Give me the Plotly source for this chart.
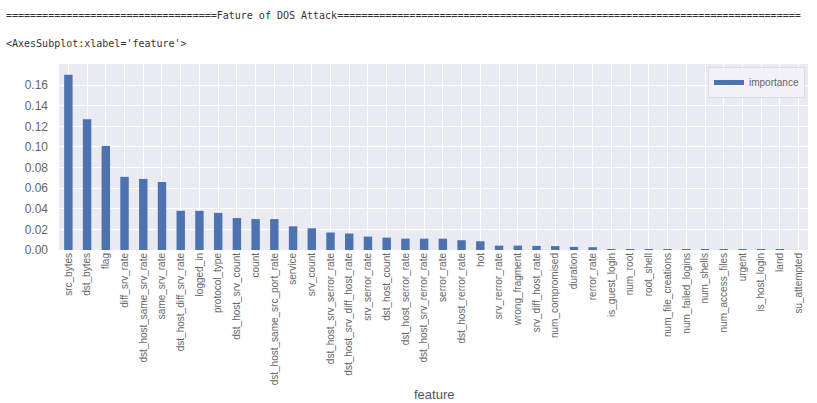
import plotly.graph_objects as go

features = ["src_bytes", "dst_bytes", "flag", "diff_srv_rate", "dst_host_same_srv_rate",
            "same_srv_rate", "dst_host_diff_srv_rate", "logged_in", "protocol_type",
            "dst_host_srv_count", "count", "dst_host_same_src_port_rate", "service",
            "srv_count", "dst_host_srv_serror_rate", "dst_host_srv_diff_host_rate",
            "srv_serror_rate", "dst_host_count", "dst_host_serror_rate",
            "dst_host_srv_rerror_rate", "serror_rate", "dst_host_rerror_rate", "hot",
            "srv_rerror_rate", "wrong_fragment", "srv_diff_host_rate", "num_compromised",
            "duration", "rerror_rate", "is_guest_login", "num_root", "root_shell",
            "num_file_creations", "num_failed_logins", "num_shells", "num_access_files",
            "urgent", "is_host_login", "land", "su_attempted"]
importance = [0.170, 0.127, 0.101, 0.071, 0.069, 0.066, 0.038, 0.038, 0.036, 0.031,
              0.030, 0.030, 0.023, 0.021, 0.017, 0.016, 0.013, 0.012, 0.011, 0.011,
              0.011, 0.0095, 0.0085, 0.0042, 0.0042, 0.0040, 0.0038, 0.0030, 0.0027,
              0.0004, 0.0003, 0.0002, 0.0002, 0.0001, 0.0001, 0.0001, 0.00005, 0.00002,
              0.00001, 0.0]
yticks = [0.00, 0.02, 0.04, 0.06, 0.08, 0.10, 0.12, 0.14, 0.16]

title_line = "=" * 35 + "Fature of DOS Attack" + "=" * 77
repr_line = "<AxesSubplot:xlabel='feature'>"

BAR = "#4C72B0"
W, H = 817, 403
L, R, T, B = 59, 9, 64, 153
pw, ph = W - L - R, H - T - B

fig = go.Figure()
fig.add_trace(go.Bar(x=features, y=importance, marker=dict(color=BAR, line=dict(width=0)),
                     showlegend=False))
fig.add_trace(go.Scatter(x=[None], y=[None], mode="lines", name="importance",
                         line=dict(color=BAR, width=5)))

fig.update_layout(
    width=W, height=H,
    margin=dict(l=L, r=R, t=T, b=B, autoexpand=False),
    paper_bgcolor="white", plot_bgcolor="#EAEAF2",
    bargap=0.55,
    font=dict(family="Liberation Sans, Arial, sans-serif", color="#555555"),
    legend=dict(x=(805 - L) / pw, xanchor="right", y=(250 - 67) / ph, yanchor="top",
                bgcolor="rgba(242,242,247,0.9)", bordercolor="#dcdce4", borderwidth=1,
                font=dict(size=10, color="#666666"), itemwidth=30),
    xaxis=dict(type="category", tickangle=-90, tickfont=dict(size=10, color="#666666"),
               showgrid=True, gridcolor="white", gridwidth=1, ticks="", showline=False,
               zeroline=False, automargin=False),
    yaxis=dict(range=[0, 0.1805], tickvals=yticks, tickformat=".2f",
               tickfont=dict(size=12, color="#666666"), showgrid=True, gridcolor="white",
               gridwidth=1, ticks="", zeroline=False, showline=False, automargin=False,
               ticklabelstandoff=10),
)

fig.add_annotation(xref="paper", yref="paper", x=(4 - L) / pw, y=(250 - 15) / ph,
                   xanchor="left", yanchor="middle", showarrow=False, text=title_line,
                   font=dict(family="DejaVu Sans Mono, monospace", size=10, color="#333333"))
fig.add_annotation(xref="paper", yref="paper", x=(4 - L) / pw, y=(250 - 43) / ph,
                   xanchor="left", yanchor="middle", showarrow=False, text=repr_line,
                   font=dict(family="DejaVu Sans Mono, monospace", size=10, color="#333333"))
fig.add_annotation(xref="paper", yref="paper", x=0.5, y=(250 - 394) / ph,
                   xanchor="center", yanchor="middle", showarrow=False, text="feature",
                   font=dict(size=13, color="#555555"))

fig.write_html("out.html")
